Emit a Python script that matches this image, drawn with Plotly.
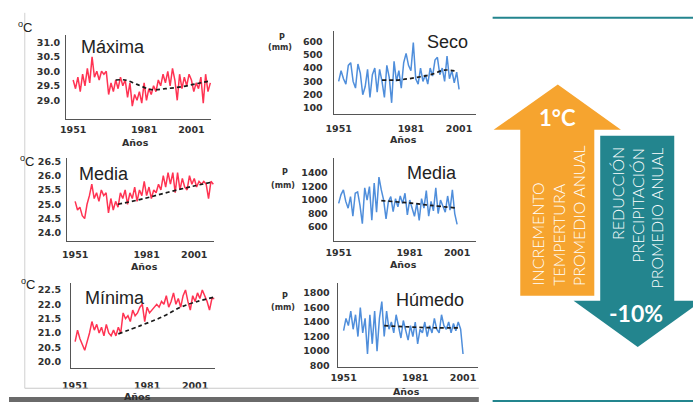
import plotly.graph_objects as go

W, H = 693, 406

# ---------------- data ----------------
years_temp = list(range(1951, 2010))
years_prec = list(range(1951, 2002))

tmax = [29.7, 29.4, 29.8, 29.3, 29.9, 29.5, 30.1, 29.6, 30.5, 29.8,
        30.0, 29.7, 30.0, 29.9, 30.0, 29.2, 29.6, 29.3, 29.7, 29.4,
        29.8, 29.5, 29.7, 29.1, 29.6, 28.8, 29.2, 29.0, 29.3, 28.9,
        29.6, 29.0, 29.4, 29.2, 29.5, 29.3, 29.7, 29.5, 29.9, 29.6,
        30.0, 29.5, 30.1, 29.7, 29.0, 29.9, 29.4, 29.8, 29.5, 29.9,
        29.7, 29.3, 29.6, 29.4, 29.8, 28.9, 29.9, 29.3, 29.6]
tmax_trend_years = [1969, 1973, 1978, 1984, 1990, 1997, 2003, 2008]
tmax_trend = [29.7, 29.7, 29.55, 29.37, 29.4, 29.47, 29.57, 29.65]

tmed = [25.1, 24.8, 24.9, 24.6, 24.5, 25.0, 25.3, 25.7, 25.2, 25.4,
        25.1, 25.5, 25.3, 25.4, 24.7, 25.2, 24.8, 25.1, 24.9, 25.4,
        25.2, 25.5, 25.0, 25.4, 25.2, 25.6, 25.1, 25.5, 25.3, 25.8,
        25.3, 25.6, 25.2, 25.5, 25.4, 25.7, 25.5, 26.0, 25.6, 26.1,
        25.7, 26.1, 25.4, 26.1, 25.5, 25.9, 25.6, 25.5, 26.0, 25.7,
        25.9, 25.6, 25.8, 25.7, 25.8, 25.7, 25.2, 25.8, 25.7]
tmed_trend_years = [1969, 1980, 1990, 2000, 2009]
tmed_trend = [25.0, 25.2, 25.42, 25.62, 25.78]

tmin = [20.7, 21.1, 20.8, 20.6, 20.4, 20.7, 21.0, 21.4, 21.1, 21.3,
        21.0, 21.2, 20.9, 21.3, 21.0, 20.9, 21.1, 20.9, 21.2, 21.0,
        21.7, 21.5, 21.6, 21.4, 21.8, 21.6, 21.7, 21.9, 22.0, 21.4,
        21.9, 21.7, 21.8, 21.9, 22.0, 21.9, 22.1, 22.0, 22.3, 21.9,
        22.1, 22.4, 22.0, 22.2, 21.9, 22.3, 22.5, 22.1, 21.8, 22.3,
        22.1, 22.4, 22.2, 22.5, 22.3, 22.1, 21.8, 22.2, 22.2]
tmin_trend_years = [1969, 1978, 1987, 1995, 2002, 2009]
tmin_trend = [20.97, 21.25, 21.55, 21.9, 22.1, 22.25]

p_seco = [300, 380, 320, 280, 420, 440, 300, 250, 430, 360,
          200, 260, 390, 180, 350, 400, 220, 390, 300, 180,
          420, 330, 140, 450, 300, 380, 250, 440, 510, 420,
          380, 590, 320, 280, 400, 300, 350, 280, 400, 340,
          460, 480, 350, 400, 300, 490, 320, 380, 290, 370, 240]
p_seco_trend_years = [1969, 1975, 1980, 1985, 1990, 1995, 2000]
p_seco_trend = [310, 310, 320, 335, 355, 385, 375]

p_media = [950, 1080, 1150, 980, 880, 1050, 760, 1100, 1120, 920,
           650, 1180, 1000, 1200, 700, 1250, 820, 1340, 1150, 1000,
           720, 980, 1050, 830, 1020, 900, 1060, 950, 1100, 780,
           1000, 870, 760, 950, 700, 1020, 880, 1140, 760, 980,
           840, 1180, 800, 1000, 900, 820, 1060, 850, 1150, 800, 640]
p_media_trend_years = [1969, 1980, 1990, 2000]
p_media_trend = [990, 960, 920, 885]

p_humedo = [1280, 1450, 1350, 1550, 1300, 1500, 1200, 1600, 1250, 1450,
            960, 1500, 1100, 1550, 1000, 1450, 1680, 1200, 1550, 1300,
            1400, 1250, 1500, 1350, 1180, 1420, 1300, 1150, 1350, 1200,
            1400, 1100, 1300, 1250, 1400, 1200, 1350, 1250, 1450, 1300,
            1250, 1500, 1350, 1300, 1400, 1250, 1380, 1280, 1400, 1300, 960]
p_humedo_trend_years = [1968, 1980, 1990, 2000]
p_humedo_trend = [1350, 1330, 1320, 1320]

xtick_years = [1951, 1981, 2001]
ticks_tmax = [29.0, 29.5, 30.0, 30.5, 31.0]
ticks_tmed = [24.0, 24.5, 25.0, 25.5, 26.0, 26.5]
ticks_tmin = [20.0, 20.5, 21.0, 21.5, 22.0, 22.5]
ticks_seco = [100, 200, 300, 400, 500, 600]
ticks_media = [600, 800, 1000, 1200, 1400]
ticks_humedo = [800, 1000, 1200, 1400, 1600, 1800]

titles = ["Máxima", "Seco", "Media", "Media", "Mínima", "Húmedo"]

# ---------------- styles ----------------
RED = "#FF3352"
BLUE = "#4F8EDB"
ORANGE = "#F6A42F"
TEAL = "#23858E"
AXC = "#555555"
TXT = "#222222"
TICKFONT = dict(family="DejaVu Sans", size=9.5, color="#303030", weight="bold")


def px(xp):
    return xp / W


def py(yp):
    return 1 - yp / H


panels = [
    dict(x=years_temp, y=tmax, tx=tmax_trend_years, ty=tmax_trend, color=RED,
         box=(58, 205, 33, 118), xcal=((1951, 65), (2009, 204)),
         ycal=((31.0, 40), (29.0, 99)), yt=ticks_tmax, fmt=".1f",
         ystand=3, xstand=2, title=(105, 45)),
    dict(x=years_prec, y=p_seco, tx=p_seco_trend_years, ty=p_seco_trend, color=BLUE,
         box=(329, 473, 28, 113), xcal=((1951, 334), (2001, 456)),
         ycal=((600, 39), (100, 107)), yt=ticks_seco, fmt="d",
         ystand=8, xstand=5, title=(444, 40)),
    dict(x=years_temp, y=tmed, tx=tmed_trend_years, ty=tmed_trend, color=RED,
         box=(59, 208, 158, 242), xcal=((1951, 67), (2009, 207)),
         ycal=((26.5, 161), (24.0, 234)), yt=ticks_tmed, fmt=".1f",
         ystand=3, xstand=5, title=(96, 174)),
    dict(x=years_prec, y=p_media, tx=p_media_trend_years, ty=p_media_trend, color=BLUE,
         box=(329, 473, 158, 242), xcal=((1951, 334), (2001, 454)),
         ycal=((1400, 173), (600, 228)), yt=ticks_media, fmt="d",
         ystand=3, xstand=3, title=(429, 173)),
    dict(x=years_temp, y=tmin, tx=tmin_trend_years, ty=tmin_trend, color=RED,
         box=(63, 209, 285, 371), xcal=((1951, 67), (2009, 208)),
         ycal=((22.5, 292), (20.0, 365)), yt=ticks_tmin, fmt=".1f",
         ystand=7, xstand=9, title=(107, 300)),
    dict(x=years_prec, y=p_humedo, tx=p_humedo_trend_years, ty=p_humedo_trend, color=BLUE,
         box=(333, 475, 285, 370), xcal=((1951, 339), (2001, 460)),
         ycal=((1800, 295), (800, 369)), yt=ticks_humedo, fmt="d",
         ystand=5, xstand=2, title=(427, 302)),
]

fig = go.Figure()
layout = dict(
    width=W, height=H, margin=dict(l=0, r=0, t=0, b=0),
    paper_bgcolor="white", plot_bgcolor="rgba(0,0,0,0)", showlegend=False,
)

annotations = []
shapes = []

for i, p in enumerate(panels, start=1):
    x0, x1, y0, y1 = p["box"]
    (ya, pa), (yb, pb) = p["xcal"]
    sx = (pb - pa) / (yb - ya)
    xr = [ya + (x0 - pa) / sx, ya + (x1 - pa) / sx]
    (va, qa), (vb, qb) = p["ycal"]
    sy = (qb - qa) / (vb - va)
    yr = [va + (y1 - qa) / sy, va + (y0 - qa) / sy]
    suf = "" if i == 1 else str(i)
    fig.add_trace(go.Scatter(x=p["x"], y=p["y"], mode="lines",
                             line=dict(color=p["color"], width=1.5),
                             xaxis="x" + suf, yaxis="y" + suf, cliponaxis=False))
    fig.add_trace(go.Scatter(x=p["tx"], y=p["ty"], mode="lines",
                             line=dict(color="#1a1a1a", width=1.7, dash="4px,3px", shape="spline"),
                             xaxis="x" + suf, yaxis="y" + suf, cliponaxis=False))
    if p["fmt"] == "d":
        ytext = [str(v) for v in p["yt"]]
    else:
        ytext = [f"{v:.1f}" for v in p["yt"]]
    layout["xaxis" + suf] = dict(
        domain=[px(x0), px(x1)], range=xr, anchor="y" + suf,
        showline=True, linecolor=AXC, linewidth=1.2, showgrid=False, zeroline=False,
        ticks="", tickvals=xtick_years, ticktext=[str(v) for v in xtick_years],
        tickfont=TICKFONT, ticklabelstandoff=p["xstand"], fixedrange=True)
    layout["yaxis" + suf] = dict(
        domain=[py(y1), py(y0)], range=yr, anchor="x" + suf,
        showline=True, linecolor=AXC, linewidth=1.2, showgrid=False, zeroline=False,
        ticks="", tickvals=p["yt"], ticktext=ytext,
        tickfont=TICKFONT, ticklabelstandoff=p["ystand"], fixedrange=True)
    tx_, ty_ = p["title"]
    annotations.append(dict(text=titles[i - 1], x=px(tx_), y=py(ty_), xref="paper", yref="paper",
                            showarrow=False, xanchor="center", yanchor="middle",
                            font=dict(family="Liberation Sans", size=18, color=TXT)))

for (ax, ay, anc) in [(128, 142, "middle"), (400, 139, "middle"), (137, 268, "middle"),
                      (400, 266, "middle"), (130, 393, "top"), (403, 395, "middle")]:
    annotations.append(dict(text="Años", x=px(ax), y=py(ay), xref="paper", yref="paper",
                            showarrow=False, xanchor="center", yanchor=anc,
                            font=dict(family="DejaVu Sans", size=9.5, color="#303030", weight="bold")))

for (ax, ay) in [(16, 24), (18, 161), (19, 286)]:
    annotations.append(dict(text="<sup>o</sup>C", x=px(ax), y=py(ay), xref="paper", yref="paper",
                            showarrow=False, xanchor="center", yanchor="middle",
                            font=dict(family="Liberation Sans", size=13, color=TXT)))
for (ax, ay, by) in [(277, 35, 45), (280, 172, 186), (280, 299, 310)]:
    annotations.append(dict(text="P", x=px(ax), y=py(ay), xref="paper", yref="paper",
                            showarrow=False, xanchor="center", yanchor="middle",
                            font=dict(family="DejaVu Sans", size=8, color="#303030", weight="bold")))
    annotations.append(dict(text="(mm)", x=px(ax - 2), y=py(by), xref="paper", yref="paper",
                            showarrow=False, xanchor="center", yanchor="middle",
                            font=dict(family="DejaVu Sans", size=8, color="#303030", weight="bold")))

shapes.append(dict(type="line", xref="paper", yref="paper", x0=px(16), x1=px(16), y0=py(10), y1=py(392),
                   line=dict(color="#d0d0d0", width=1)))
shapes.append(dict(type="line", xref="paper", yref="paper", x0=px(16), x1=px(476), y0=py(392), y1=py(392),
                   line=dict(color="#c8c8c8", width=1)))
shapes.append(dict(type="rect", xref="paper", yref="paper", x0=px(0), x1=px(476), y0=py(406), y1=py(401),
                   line=dict(width=0), fillcolor="#6a6a6a", layer="above"))

for yy in (15, 405):
    shapes.append(dict(type="line", xref="paper", yref="paper", x0=px(490), x1=px(693), y0=py(yy), y1=py(yy),
                       line=dict(color=TEAL, width=2)))


def poly(pts):
    return "M " + " L ".join(f"{px(a):.5f},{py(b):.5f}" for a, b in pts) + " Z"


up_arrow = [(556, 83), (620, 129), (593, 129), (593, 298), (518, 298), (518, 129), (491, 129)]
down_arrow = [(599, 135), (674, 135), (674, 303), (702, 303), (637, 350), (572, 303), (599, 303)]
shapes.append(dict(type="path", xref="paper", yref="paper", path=poly(up_arrow),
                   fillcolor=ORANGE, line=dict(width=0)))
shapes.append(dict(type="path", xref="paper", yref="paper", path=poly(down_arrow),
                   fillcolor=TEAL, line=dict(width=0)))

annotations.append(dict(text="<b>1°C</b>", x=px(556), y=py(117), xref="paper", yref="paper",
                        showarrow=False, xanchor="center", yanchor="middle",
                        font=dict(family="Lato", size=22, color="white")))
annotations.append(dict(text="<b>-10%</b>", x=px(635), y=py(315), xref="paper", yref="paper",
                        showarrow=False, xanchor="center", yanchor="middle",
                        font=dict(family="Lato", size=23, color="white")))

for txt, cx in [("INCREMENTO", 535), ("TEMPERTURA", 556), ("PROMEDIO ANUAL", 577)]:
    annotations.append(dict(text=txt, x=px(cx), y=py(290), xref="paper", yref="paper",
                            showarrow=False, textangle=-90, xanchor="center", yanchor="bottom",
                            font=dict(family="Lato", size=16, color="white", weight=300)))
for txt, cx in [("REDUCCIÓN", 616), ("PRECIPITACIÓN", 636), ("PROMEDIO ANUAL", 656)]:
    annotations.append(dict(text=txt, x=px(cx), y=py(145), xref="paper", yref="paper",
                            showarrow=False, textangle=-90, xanchor="center", yanchor="top",
                            font=dict(family="Lato", size=16, color="white", weight=300)))

layout["annotations"] = annotations
layout["shapes"] = shapes
fig.update_layout(**layout)
fig.write_html(
    "out.html",
    config={"displayModeBar": False},
    post_script="document.body.style.margin='0px';document.body.style.padding='0px';"
                "document.documentElement.style.overflow='hidden';",
)
